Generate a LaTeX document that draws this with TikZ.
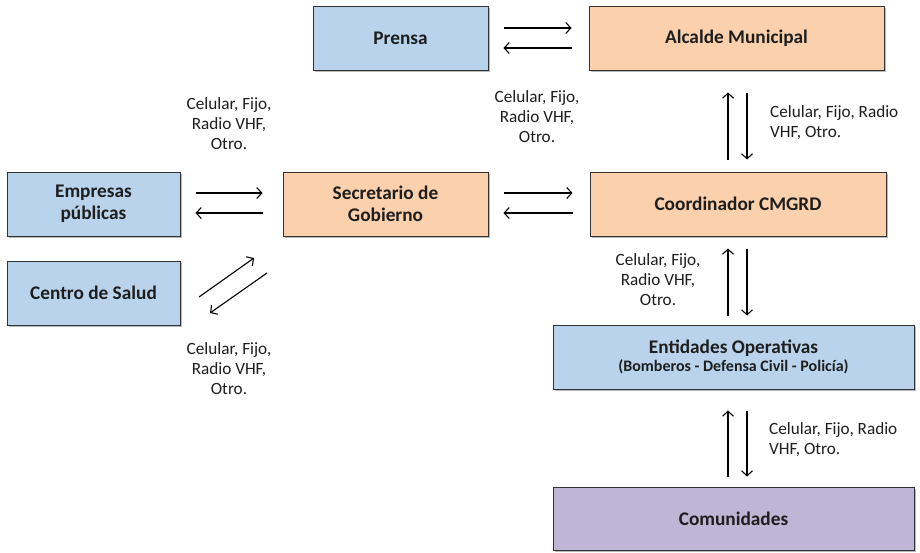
\documentclass[tikz,border=0pt]{standalone}
\usepackage{fontspec}
\setmainfont{Carlito}
\usetikzlibrary{arrows.meta,shadows,calc}
\definecolor{bluebox}{RGB}{185,211,236}
\definecolor{peachbox}{RGB}{251,208,172}
\definecolor{purplebox}{RGB}{191,181,212}
\definecolor{txt}{RGB}{30,30,30}
\definecolor{edge}{RGB}{50,50,50}
\tikzset{
  box/.style={draw=edge, line width=1pt, rectangle, align=center, text=txt,
    font=\fontsize{19.3}{22}\selectfont\bfseries,
    drop shadow={shadow xshift=1.5pt, shadow yshift=-1.8pt, fill=black!45, opacity=0.6}},
  blue/.style={box, fill=bluebox},
  peach/.style={box, fill=peachbox},
  purple/.style={box, fill=purplebox},
  lbl/.style={text=txt, font=\fontsize{17.2}{20}\selectfont, inner sep=0pt},
  conn/.style={line width=1.1pt, -{Straight Barb[length=5pt,width=11pt,line width=1.1pt]}},
}
\begin{document}
\begin{tikzpicture}[x=1pt,y=-1pt]
\useasboundingbox (0,0) rectangle (920,552);
% nodes
\node[blue, minimum width=175pt, minimum height=64pt] (prensa) at (400.5,38) {Prensa};
\node[peach, minimum width=295pt, minimum height=64pt] (alcalde) at (736.5,38) {Alcalde Municipal};
\node[blue, minimum width=173pt, minimum height=64pt] (empresas) at (93.5,204) {Empresas\\públicas};
\node[blue, minimum width=173pt, minimum height=64pt] (centro) at (93.5,293) {Centro de Salud};
\node[peach, minimum width=205pt, minimum height=64pt] (secretario) at (385.5,204) {Secretario de\\Gobierno};
\node[peach, minimum width=296pt, minimum height=64pt] (coord) at (738,204) {Coordinador CMGRD};
\node[blue, minimum width=361pt, minimum height=64pt] (entidades) at (733.5,357) {Entidades Operativas\\[-4pt]{\fontsize{16}{18}\selectfont(Bomberos - Defensa Civil - Policía)}};
\node[purple, minimum width=361pt, minimum height=63pt] (comunidades) at (733.5,518.5) {Comunidades};
% labels
\node[lbl, align=center] (l1) at (537,117) {Celular, Fijo,\\Radio VHF,\\Otro.};
\node[lbl, align=left, anchor=west] (l2) at (770,123) {Celular, Fijo, Radio\\VHF, Otro.};
\node[lbl, align=center] (l3) at (229,124) {Celular, Fijo,\\Radio VHF,\\Otro.};
\node[lbl, align=center] (l4) at (229,369) {Celular, Fijo,\\Radio VHF,\\Otro.};
\node[lbl, align=center] (l5) at (658,280) {Celular, Fijo,\\Radio VHF,\\Otro.};
\node[lbl, align=left, anchor=west] (l6) at (769,440) {Celular, Fijo, Radio\\VHF, Otro.};
% horizontal connectors
\draw[conn, shorten <=15pt, shorten >=17pt] ([yshift=10pt]prensa.east) -- ([yshift=10pt]alcalde.west);
\draw[conn, shorten <=17pt, shorten >=15pt] ([yshift=-10pt]alcalde.west) -- ([yshift=-10pt]prensa.east);
\draw[conn, shorten <=15pt, shorten >=20pt] ([yshift=11pt]empresas.east) -- ([yshift=11pt]secretario.west);
\draw[conn, shorten <=20pt, shorten >=15pt] ([yshift=-9pt]secretario.west) -- ([yshift=-9pt]empresas.east);
\draw[conn, shorten <=15pt, shorten >=17pt] ([yshift=11pt]secretario.east) -- ([yshift=11pt]coord.west);
\draw[conn, shorten <=17pt, shorten >=15pt] ([yshift=-9pt]coord.west) -- ([yshift=-9pt]secretario.east);
% vertical connectors
\draw[conn, shorten <=12pt, shorten >=22pt] (728,0 |- coord.north) -- (728,0 |- alcalde.south);
\draw[conn, shorten <=22pt, shorten >=12pt] (747,0 |- alcalde.south) -- (747,0 |- coord.north);
\draw[conn, shorten <=9pt, shorten >=12pt] (728,0 |- entidades.north) -- (728,0 |- coord.south);
\draw[conn, shorten <=12pt, shorten >=9pt] (747,0 |- coord.south) -- (747,0 |- entidades.north);
\draw[conn, shorten <=10pt, shorten >=21pt] (728,0 |- comunidades.north) -- (728,0 |- entidades.south);
\draw[conn, shorten <=21pt, shorten >=10pt] (747,0 |- entidades.south) -- (747,0 |- comunidades.north);
% diagonal connectors
\coordinate (d1a) at (199,297);
\coordinate (d1b) at (254,258);
\coordinate (d2a) at (267,273);
\coordinate (d2b) at (210,313);
\draw[conn] (d1a) -- (d1b);
\draw[conn] (d2a) -- (d2b);
\end{tikzpicture}
\end{document}
